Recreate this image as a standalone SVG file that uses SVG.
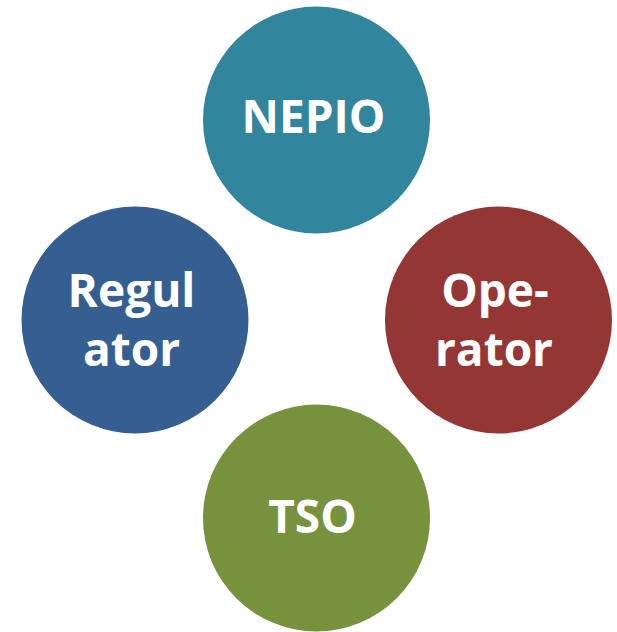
<svg xmlns="http://www.w3.org/2000/svg" width="617" height="632" viewBox="0 0 617 632">
  <style>
    .node circle { stroke: none; }
    .label { font-family: "Open Sans", Lato, "Liberation Sans", sans-serif; font-weight: bold; font-size: 46px; fill: #ffffff; text-anchor: middle; }
  </style>
  <rect width="617" height="632" fill="#ffffff"/>
  <g id="connectors"></g>
  <g id="nepio" class="node">
    <circle cx="316.5" cy="120" r="113.5" fill="#31859C"/>
    <text class="label" x="313.5" y="133">NEPIO</text>
  </g>
  <g id="operator" class="node">
    <circle cx="498.5" cy="320" r="113.5" fill="#943634"/>
    <text class="label" x="495" y="307">Ope-</text>
    <text class="label" x="494" y="366">rator</text>
  </g>
  <g id="regulator" class="node">
    <circle cx="135" cy="320" r="113.5" fill="#365F91"/>
    <text class="label" x="131.5" y="307">Regul</text>
    <text class="label" x="131.5" y="366">ator</text>
  </g>
  <g id="tso" class="node">
    <circle cx="316.5" cy="518" r="113.5" fill="#76923C"/>
    <text class="label" x="312.5" y="533">TSO</text>
  </g>
</svg>
